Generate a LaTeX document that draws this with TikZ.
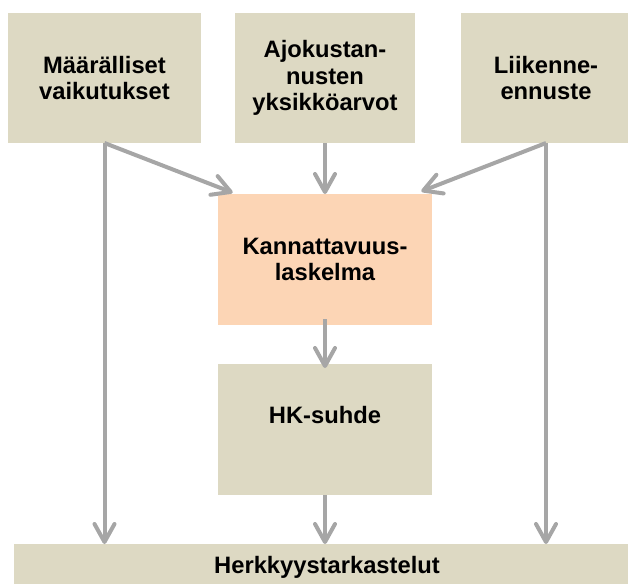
\documentclass[tikz,border=0pt]{standalone}
\usepackage{fontspec}
\setmainfont{Liberation Sans}
\usetikzlibrary{arrows.meta}
\definecolor{boxbeige}{HTML}{DDD9C3}
\definecolor{boxorange}{HTML}{FCD5B5}
\definecolor{arrowgray}{HTML}{A6A6A6}

\begin{document}
\begin{tikzpicture}[
x=0.75pt, y=-0.75pt,
source/.style={fill=boxbeige, inner sep=0pt, outer sep=0pt, minimum height=97.5pt, align=center, font=\bfseries\fontsize{17.8}{20}\selectfont},
core/.style={source, fill=boxorange, minimum width=160.5pt, minimum height=98.25pt},
ratio/.style={source, minimum width=160.5pt, minimum height=98.25pt, text depth=22.5pt},
check/.style={source, minimum width=469.5pt, minimum height=34.5pt},
flow/.style={-{Straight Barb[round, length=13.5pt, width=15pt]}, draw=arrowgray, line width=3pt},
]

% Page frame
\useasboundingbox (0,0) rectangle (628,583);
\clip (0,0) rectangle (628,583);

% Define a grid using coordinates
\coordinate (grid1) at (104.5,78);   % Top-left
\coordinate (grid2) at (325,78);     % Top-center
\coordinate (grid3) at (546,78);     % Top-right
\coordinate (grid4) at (325,259.5);  % Middle
\coordinate (grid5) at (325,429.5);  % Lower middle
\coordinate (grid6) at (327,567);    % Bottom

% Nodes at grid points
\node[source, minimum width=144.75pt] (quant) at (grid1) {Määrälliset\\vaikutukset};
\node[source, minimum width=135pt] (unit) at (grid2) {Ajokustan-\\nusten\\yksikköarvot};
\node[source, minimum width=127.5pt] (traffic) at (grid3) {Liikenne-\\ennuste};

\node[core] (profit) at (grid4) {Kannattavuus-\\laskelma};
\node[ratio] (hk) at (grid5) {HK-suhde};

\node[check] (sens) at (grid6) {Herkkyystarkastelut};

% Draw connecting arrows
\draw[flow] (quant.south) to ([xshift=11pt, yshift=1pt]profit.north west);
\draw[flow] (unit) to (profit);
\draw[flow] (traffic.south) to ([xshift=-8pt, yshift=2pt]profit.north east);
\draw[flow, shorten <=-4.5pt, shorten >=-3pt] (profit) to (hk);
\draw[flow] (hk) to (hk |- sens.north);
\draw[flow] (quant.south) to (quant.south |- sens.north);
\draw[flow] (traffic.south) to (traffic.south |- sens.north);

\end{tikzpicture}
\end{document}
